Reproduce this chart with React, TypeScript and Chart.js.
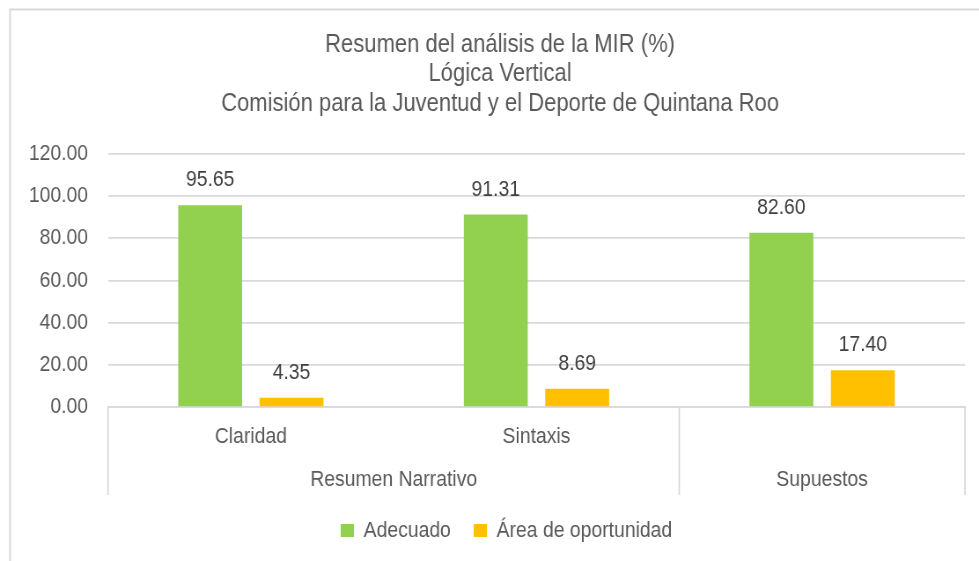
import React, { useEffect, useRef } from "react";
import { Chart, registerables } from "chart.js";

Chart.register(...registerables);

// ---- data ----
const categories = ["Claridad", "Sintaxis", ""];
const groupLabels = ["Resumen Narrativo", "Supuestos"];
const groupSpans = [2, 1];
const seriesNames = ["Adecuado", "Área de oportunidad"];
const adecuado = [95.65, 91.31, 82.6];
const areaOportunidad = [4.35, 8.69, 17.4];
const titleLines = [
  "Resumen del análisis de la MIR (%)",
  "Lógica Vertical",
  "Comisión para la Juventud y el Deporte de Quintana Roo",
];
const yMin = 0;
const yMax = 120;
const yStep = 20;

// ---- style ----
const SX = 979 / 1112;
const W = 1112;
const H = 561;
const FONT = '"Liberation Sans", Arial, "DejaVu Sans", sans-serif';
const TEXT = "#595959";
const GRID = "#d9d9d9";
const GREEN = "#92D050";
const ORANGE = "#FFC000";
const LEGEND_CENTER = 575.25;

export default function App() {
  const ref = useRef<HTMLCanvasElement | null>(null);

  useEffect(() => {
    if (!ref.current) return;
    document.body.style.overflow = "hidden";

    const framePlugin = {
      id: "frame",
      beforeDraw(chart: any) {
        const ctx = chart.ctx;
        ctx.save();
        ctx.fillStyle = "#ffffff";
        ctx.fillRect(0, 0, chart.width, chart.height);
        ctx.strokeStyle = GRID;
        ctx.lineWidth = 2;
        ctx.strokeRect(11.4, 9.5, chart.width + 20, chart.height + 20);
        ctx.restore();
      },
    };

    const legendShiftPlugin = {
      id: "legendShift",
      afterLayout(chart: any) {
        const lg = chart.legend;
        if (!lg) return;
        const shift = LEGEND_CENTER - (lg.left + lg.right) / 2;
        lg.left += shift;
        lg.right += shift;
      },
    };

    const titlePlugin = {
      id: "multiTitle",
      afterDraw(chart: any) {
        const ctx = chart.ctx;
        ctx.save();
        ctx.fillStyle = TEXT;
        ctx.font = `25px ${FONT}`;
        ctx.textAlign = "center";
        ctx.textBaseline = "middle";
        const ys = [45, 74.5, 104];
        titleLines.forEach((t, i) => ctx.fillText(t, 568, ys[i]));
        ctx.restore();
      },
    };

    const categoryAxisPlugin = {
      id: "multiLevelAxis",
      afterDraw(chart: any) {
        const ctx = chart.ctx;
        const x = chart.scales.x;
        const area = chart.chartArea;
        const bottom = 495;
        ctx.save();
        const boundaries: number[] = [area.left];
        let idx = 0;
        groupSpans.forEach((span) => {
          idx += span;
          if (idx < categories.length) {
            boundaries.push(
              (x.getPixelForValue(idx - 1) + x.getPixelForValue(idx)) / 2
            );
          }
        });
        boundaries.push(area.right);
        ctx.strokeStyle = GRID;
        ctx.lineWidth = 1.7;
        boundaries.forEach((bx) => {
          ctx.beginPath();
          ctx.moveTo(bx, area.bottom);
          ctx.lineTo(bx, bottom);
          ctx.stroke();
        });
        ctx.fillStyle = TEXT;
        ctx.font = `22px ${FONT}`;
        ctx.textAlign = "center";
        ctx.textBaseline = "middle";
        categories.forEach((c, i) => {
          if (c) ctx.fillText(c, x.getPixelForValue(i), 437);
        });
        let start = 0;
        groupLabels.forEach((g, gi) => {
          const end = start + groupSpans[gi] - 1;
          const cx = (x.getPixelForValue(start) + x.getPixelForValue(end)) / 2;
          ctx.fillText(g, cx, 480);
          start = end + 1;
        });
        ctx.restore();
      },
    };

    const dataLabelPlugin = {
      id: "valueLabels",
      afterDatasetsDraw(chart: any) {
        const ctx = chart.ctx;
        ctx.save();
        ctx.fillStyle = "#404040";
        ctx.font = `22px ${FONT}`;
        ctx.textAlign = "center";
        ctx.textBaseline = "middle";
        chart.data.datasets.forEach((ds: any, di: number) => {
          const meta = chart.getDatasetMeta(di);
          meta.data.forEach((bar: any, i: number) => {
            const v = ds.data[i] as number;
            ctx.fillText(v.toFixed(2), bar.x, bar.y - 25);
          });
        });
        ctx.restore();
      },
    };

    const chart = new Chart(ref.current, {
      type: "bar",
      data: {
        labels: categories,
        datasets: [
          {
            label: seriesNames[0],
            data: adecuado,
            backgroundColor: GREEN,
            borderWidth: 0,
            barPercentage: 0.785,
            categoryPercentage: 0.57,
          },
          {
            label: seriesNames[1],
            data: areaOportunidad,
            backgroundColor: ORANGE,
            borderWidth: 0,
            barPercentage: 0.785,
            categoryPercentage: 0.57,
          },
        ],
      },
      options: {
        animation: false,
        responsive: false,
        devicePixelRatio: 1,
        layout: { padding: { left: 20, right: 16, top: 154, bottom: 9.5 } },
        plugins: {
          title: { display: false },
          tooltip: { enabled: false },
          legend: {
            display: true,
            position: "bottom",
            labels: {
              color: TEXT,
              font: { family: FONT, size: 22 },
              boxWidth: 15,
              boxHeight: 13,
              padding: 26,
            },
          },
        },
        scales: {
          x: {
            grid: { display: false },
            border: { display: true, color: GRID, width: 1.7 },
            ticks: { display: false },
            afterFit(scale: any) {
              scale.height = 86.5;
            },
          },
          y: {
            min: yMin,
            max: yMax,
            ticks: {
              stepSize: yStep,
              color: TEXT,
              font: { family: FONT, size: 22 },
              padding: 22.7,
              callback: (v: any) => Number(v).toFixed(2),
            },
            grid: { color: GRID, lineWidth: 1.7, drawTicks: false },
            border: { display: false },
            afterFit(scale: any) {
              scale.width = 102.7;
            },
          },
        },
      },
      plugins: [framePlugin, legendShiftPlugin, titlePlugin, categoryAxisPlugin, dataLabelPlugin],
    });

    return () => chart.destroy();
  }, []);

  return (
    <div
      style={{
        position: "absolute",
        left: 0,
        top: 0,
        width: W,
        height: H,
        transform: `scaleX(${SX})`,
        transformOrigin: "0 0",
      }}
    >
      <canvas ref={ref} width={W} height={H} style={{ display: "block" }} />
    </div>
  );
}
